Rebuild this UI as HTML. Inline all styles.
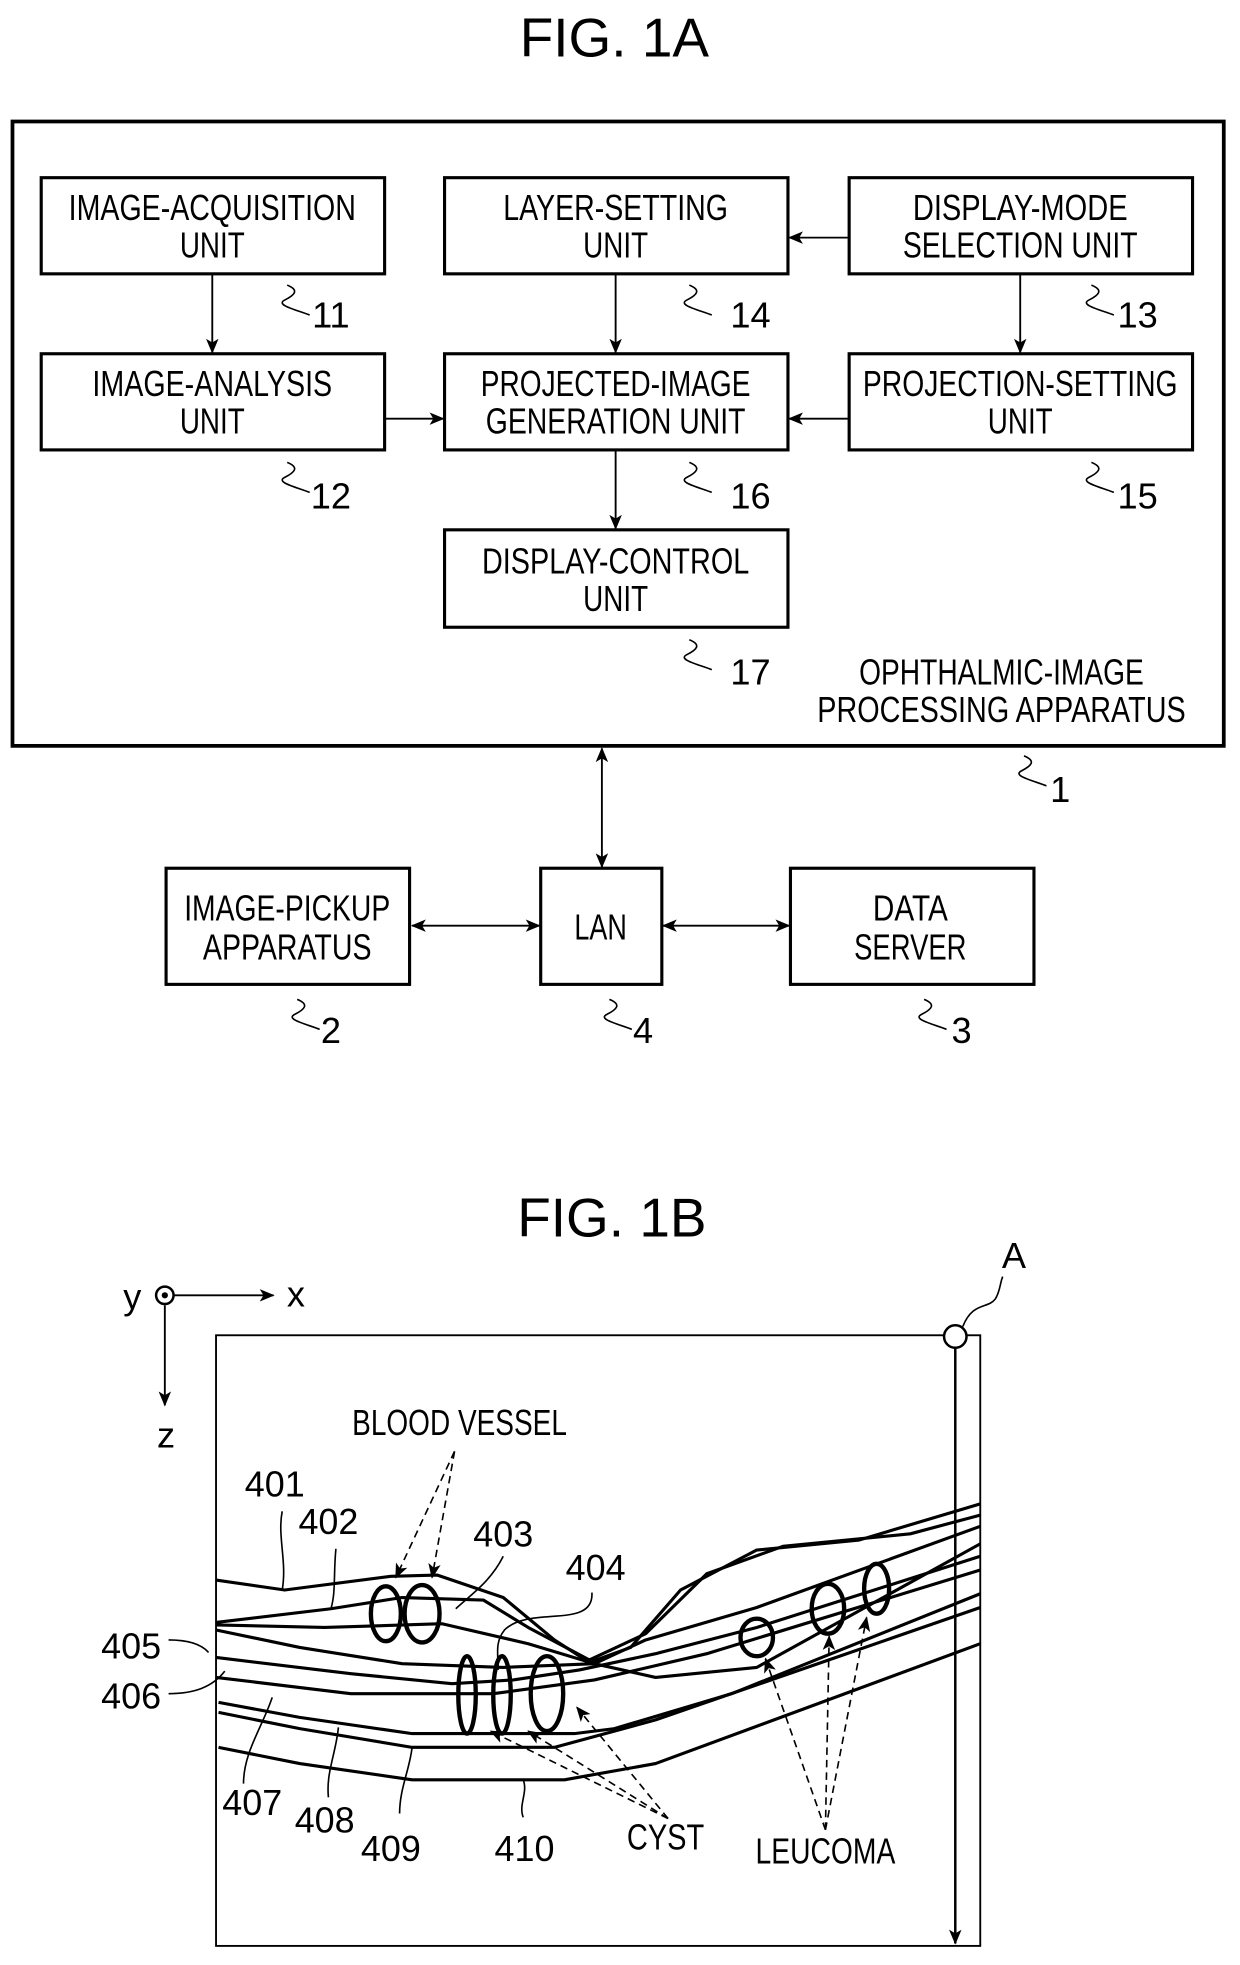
<!DOCTYPE html>
<html><head><meta charset="utf-8"><style>
html,body{margin:0;padding:0;background:#fff;}
svg{display:block;}
text{font-family:"Liberation Sans",sans-serif;fill:#000;}
</style></head><body>
<svg width="1240" height="1965" viewBox="0 0 993 1573" xmlns="http://www.w3.org/2000/svg">
<defs>
<marker id="ah" markerWidth="12" markerHeight="10" refX="11" refY="5" orient="auto-start-reverse" markerUnits="userSpaceOnUse">
<path d="M0,0 L12,5 L0,10 L3,5 z" fill="#000"/></marker>
</defs>
<g fill="none" stroke="#000">
<!-- FIG 1A -->
<rect x="10" y="97" width="970" height="500" stroke-width="3"/>
<g stroke-width="2.5">
<rect x="33" y="142" width="275" height="77"/>
<rect x="356" y="142" width="275" height="77"/>
<rect x="680" y="142" width="275" height="77"/>
<rect x="33" y="283" width="275" height="77"/>
<rect x="356" y="283" width="275" height="77"/>
<rect x="680" y="283" width="275" height="77"/>
<rect x="356" y="424" width="275" height="78"/>
<rect x="133" y="695" width="195" height="93"/>
<rect x="433" y="695" width="97" height="93"/>
<rect x="633" y="695" width="195" height="93"/>
</g>
<g stroke-width="1.5" marker-end="url(#ah)">
<line x1="170" y1="219" x2="170" y2="282"/>
<line x1="493" y1="219" x2="493" y2="282"/>
<line x1="817" y1="219" x2="817" y2="282"/>
<line x1="679" y1="190" x2="632" y2="190"/>
<line x1="308" y1="335" x2="355" y2="335"/>
<line x1="679" y1="335" x2="632" y2="335"/>
<line x1="493" y1="360" x2="493" y2="423"/>
</g>
<g stroke-width="1.5" marker-end="url(#ah)" marker-start="url(#ah)">
<line x1="482" y1="599" x2="482" y2="694"/>
<line x1="330" y1="741" x2="432" y2="741"/>
<line x1="531" y1="741" x2="632" y2="741"/>
</g>
<g stroke-width="1.3">
<path d="M230,228 c10,4 6,8 -2,12 c-8,4 10,8 20,12"/>
<path d="M552,228 c10,4 6,8 -2,12 c-8,4 10,8 20,12"/>
<path d="M874,228 c10,4 6,8 -2,12 c-8,4 10,8 20,12"/>
<path d="M230,370 c10,4 6,8 -2,12 c-8,4 10,8 20,12"/>
<path d="M552,370 c10,4 6,8 -2,12 c-8,4 10,8 20,12"/>
<path d="M874,370 c10,4 6,8 -2,12 c-8,4 10,8 20,12"/>
<path d="M552,512 c10,4 6,8 -2,12 c-8,4 10,8 20,12"/>
<path d="M820,605 c10,4 6,8 -2,12 c-8,4 10,8 20,12"/>
<path d="M238,800 c10,4 6,8 -2,12 c-8,4 10,8 20,12"/>
<path d="M488,800 c10,4 6,8 -2,12 c-8,4 10,8 20,12"/>
<path d="M740,800 c10,4 6,8 -2,12 c-8,4 10,8 20,12"/>
</g>
</g>
<g font-size="44" text-anchor="middle">
<text x="492" y="45">FIG. 1A</text>
<text x="490" y="990">FIG. 1B</text>
</g>
<g font-size="29" text-anchor="middle">
<text x="170" y="176" textLength="230" lengthAdjust="spacingAndGlyphs">IMAGE-ACQUISITION</text>
<text x="170" y="206" textLength="52" lengthAdjust="spacingAndGlyphs">UNIT</text>
<text x="493" y="176" textLength="180" lengthAdjust="spacingAndGlyphs">LAYER-SETTING</text>
<text x="493" y="206" textLength="52" lengthAdjust="spacingAndGlyphs">UNIT</text>
<text x="817" y="176" textLength="172" lengthAdjust="spacingAndGlyphs">DISPLAY-MODE</text>
<text x="817" y="206" textLength="188" lengthAdjust="spacingAndGlyphs">SELECTION UNIT</text>
<text x="170" y="317" textLength="192" lengthAdjust="spacingAndGlyphs">IMAGE-ANALYSIS</text>
<text x="170" y="347" textLength="52" lengthAdjust="spacingAndGlyphs">UNIT</text>
<text x="493" y="317" textLength="216" lengthAdjust="spacingAndGlyphs">PROJECTED-IMAGE</text>
<text x="493" y="347" textLength="208" lengthAdjust="spacingAndGlyphs">GENERATION UNIT</text>
<text x="817" y="317" textLength="252" lengthAdjust="spacingAndGlyphs">PROJECTION-SETTING</text>
<text x="817" y="347" textLength="52" lengthAdjust="spacingAndGlyphs">UNIT</text>
<text x="493" y="459" textLength="214" lengthAdjust="spacingAndGlyphs">DISPLAY-CONTROL</text>
<text x="493" y="489" textLength="52" lengthAdjust="spacingAndGlyphs">UNIT</text>
<text x="802" y="548" textLength="228" lengthAdjust="spacingAndGlyphs">OPHTHALMIC-IMAGE</text>
<text x="802" y="578" textLength="295" lengthAdjust="spacingAndGlyphs">PROCESSING APPARATUS</text>
<text x="230" y="737" textLength="165" lengthAdjust="spacingAndGlyphs">IMAGE-PICKUP</text>
<text x="230" y="768" textLength="135" lengthAdjust="spacingAndGlyphs">APPARATUS</text>
<text x="481" y="752" textLength="42" lengthAdjust="spacingAndGlyphs">LAN</text>
<text x="729" y="737" textLength="60" lengthAdjust="spacingAndGlyphs">DATA</text>
<text x="729" y="768" textLength="90" lengthAdjust="spacingAndGlyphs">SERVER</text>
<text x="265" y="262">11</text><text x="601" y="262">14</text><text x="911" y="262">13</text>
<text x="265" y="407">12</text><text x="601" y="407">16</text><text x="911" y="407">15</text>
<text x="601" y="548">17</text><text x="849" y="642">1</text>
<text x="265" y="835">2</text><text x="515" y="835">4</text><text x="770" y="835">3</text>
</g>
<!-- FIG 1B -->
<g fill="none" stroke="#000">
<rect x="173" y="1069" width="612" height="489" stroke-width="1.5"/>
<line x1="765" y1="1079" x2="765" y2="1556" stroke-width="2" marker-end="url(#ah)"/>
<circle cx="765" cy="1070" r="9" stroke-width="2" fill="#fff"/>
<path d="M771,1062 c8,-20 20,-14 26,-22 c4,-6 4,-14 6,-18" stroke-width="1.3"/>
<circle cx="132" cy="1037" r="7" stroke-width="2"/>
<line x1="139" y1="1037" x2="219" y2="1037" stroke-width="1.5" marker-end="url(#ah)"/>
<line x1="132" y1="1045" x2="132" y2="1125" stroke-width="1.5" marker-end="url(#ah)"/>
<g stroke-width="2.5" stroke-linejoin="round">
<polyline points="173,1265 228,1273 313,1262 350,1261 403,1279 444,1313 472,1331 505,1319 545,1273 606,1241 688,1233 785,1204"/>
<polyline points="173,1299 265,1288 322,1279 387,1281 423,1303 472,1329 517,1308 566,1260 627,1238 729,1228 785,1213"/>
<polyline points="173,1301 260,1303 354,1300 423,1316 476,1332 517,1313 606,1287 785,1222"/>
<polyline points="173,1305 240,1319 322,1332 403,1335 476,1332 525,1343 606,1335 785,1236"/>
<polyline points="173,1327 281,1340 362,1348 411,1345 464,1337 525,1324 606,1303 785,1246"/>
<polyline points="173,1343 281,1356 395,1356 476,1345 566,1324 785,1257"/>
<polyline points="175,1363 240,1375 330,1388 460,1388 492,1384 586,1356 785,1276"/>
<polyline points="175,1371 240,1384 330,1399 444,1399 525,1377 785,1287"/>
<polyline points="175,1399 240,1412 330,1425 452,1425 525,1412 785,1316"/>
</g>
<g stroke-width="3.5">
<ellipse cx="309" cy="1292" rx="12" ry="22"/>
<ellipse cx="338" cy="1292" rx="14" ry="23"/>
<ellipse cx="374" cy="1357" rx="7" ry="31"/>
<ellipse cx="402" cy="1357" rx="7" ry="31"/>
<ellipse cx="438" cy="1356" rx="13" ry="30"/>
<ellipse cx="606" cy="1311" rx="13" ry="15"/>
<ellipse cx="663" cy="1288" rx="13" ry="20"/>
<ellipse cx="702" cy="1272" rx="10" ry="20"/>
</g>
<g stroke-width="1.3" stroke-dasharray="6,4" marker-end="url(#ah)">
<line x1="364" y1="1162" x2="317" y2="1263"/>
<line x1="364" y1="1162" x2="346" y2="1263"/>
<line x1="535" y1="1456" x2="393" y2="1386"/>
<line x1="535" y1="1456" x2="423" y2="1386"/>
<line x1="535" y1="1456" x2="462" y2="1367"/>
<line x1="661" y1="1465" x2="613" y2="1328"/>
<line x1="661" y1="1465" x2="664" y2="1310"/>
<line x1="661" y1="1465" x2="694" y2="1295"/>
</g>
<g stroke-width="1.3">
<path d="M226,1210 c-4,20 4,40 0,63"/>
<path d="M269,1240 c-2,20 0,35 -4,48"/>
<path d="M403,1246 c-10,20 -25,30 -38,42"/>
<path d="M474,1275 c2,30 -50,10 -70,30 c-8,10 -5,20 -5,32"/>
<path d="M135,1313 c12,0 25,2 32,10"/>
<path d="M135,1356 c20,0 35,-5 45,-18"/>
<path d="M195,1428 c0,-25 15,-45 23,-69"/>
<path d="M263,1439 c-2,-20 6,-35 8,-56"/>
<path d="M320,1452 c0,-20 8,-35 10,-53"/>
<path d="M419,1455 c-4,-10 4,-20 0,-30"/>
</g>
</g>
<circle cx="132" cy="1037" r="2.5" fill="#000"/>
<g font-size="29" text-anchor="middle">
<text x="106" y="1048">y</text>
<text x="237" y="1046">x</text>
<text x="133" y="1159">z</text>
<text x="812" y="1015">A</text>
<text x="368" y="1149" textLength="172" lengthAdjust="spacingAndGlyphs">BLOOD VESSEL</text>
<text x="220" y="1198" textLength="48" lengthAdjust="spacingAndGlyphs">401</text>
<text x="263" y="1228" textLength="48" lengthAdjust="spacingAndGlyphs">402</text>
<text x="403" y="1238" textLength="48" lengthAdjust="spacingAndGlyphs">403</text>
<text x="477" y="1265" textLength="48" lengthAdjust="spacingAndGlyphs">404</text>
<text x="105" y="1328" textLength="48" lengthAdjust="spacingAndGlyphs">405</text>
<text x="105" y="1368" textLength="48" lengthAdjust="spacingAndGlyphs">406</text>
<text x="202" y="1453" textLength="48" lengthAdjust="spacingAndGlyphs">407</text>
<text x="260" y="1467" textLength="48" lengthAdjust="spacingAndGlyphs">408</text>
<text x="313" y="1490" textLength="48" lengthAdjust="spacingAndGlyphs">409</text>
<text x="420" y="1490" textLength="48" lengthAdjust="spacingAndGlyphs">410</text>
<text x="533" y="1481" textLength="62" lengthAdjust="spacingAndGlyphs">CYST</text>
<text x="661" y="1492" textLength="112" lengthAdjust="spacingAndGlyphs">LEUCOMA</text>
</g>
</svg>
</body></html>
